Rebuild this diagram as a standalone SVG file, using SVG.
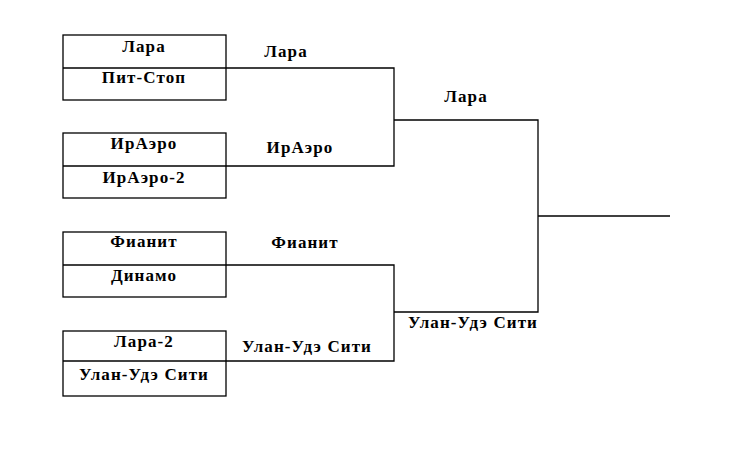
<svg xmlns="http://www.w3.org/2000/svg" width="745" height="470" viewBox="0 0 745 470">
<style>
.box{fill:#fff;stroke:#000;stroke-width:1.3}
.ln{fill:none;stroke:#000;stroke-width:1.3}
text{font-family:"Liberation Serif","Times New Roman",serif;font-weight:bold;font-size:17px;letter-spacing:1.1px;fill:#000;text-anchor:middle}
</style>
<rect width="745" height="470" fill="#fff"/>
<g id="match1">
<rect class="box" x="63" y="35" width="163" height="65"/>
<line class="ln" x1="63" y1="68" x2="226" y2="68"/>
<text x="144" y="52">Лара</text>
<text x="144" y="83">Пит-Стоп</text>
</g>
<g id="match2">
<rect class="box" x="63" y="133" width="163" height="65"/>
<line class="ln" x1="63" y1="166" x2="226" y2="166"/>
<text x="144" y="149">ИрАэро</text>
<text x="144" y="183">ИрАэро-2</text>
</g>
<g id="match3">
<rect class="box" x="63" y="232" width="163" height="65"/>
<line class="ln" x1="63" y1="265" x2="226" y2="265"/>
<text x="144" y="247">Фианит</text>
<text x="144" y="281">Динамо</text>
</g>
<g id="match4">
<rect class="box" x="63" y="331" width="163" height="65"/>
<line class="ln" x1="63" y1="361" x2="226" y2="361"/>
<text x="144" y="347">Лара-2</text>
<text x="144" y="380">Улан-Удэ Сити</text>
</g>
<g id="connectors">
<path class="ln" d="M226 68 H394 V166 H226"/>
<path class="ln" d="M226 265 H394 V361 H226"/>
<path class="ln" d="M394 120 H538 V312 H394"/>
<path class="ln" d="M538 216 H670"/>
</g>
<g id="labels">
<text x="286" y="57">Лара</text>
<text x="300" y="153">ИрАэро</text>
<text x="466" y="102">Лара</text>
<text x="305" y="248">Фианит</text>
<text x="307" y="352">Улан-Удэ Сити</text>
<text x="473" y="328">Улан-Удэ Сити</text>
</g>
</svg>
